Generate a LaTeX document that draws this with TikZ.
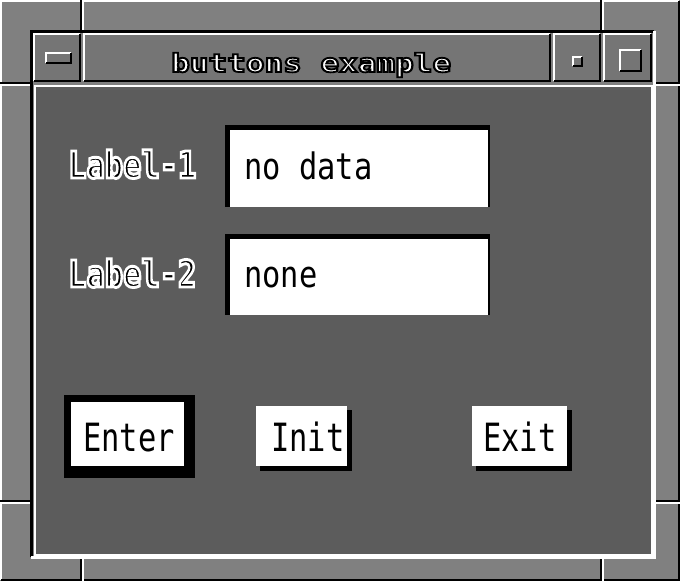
\documentclass[tikz,border=0pt]{standalone}
\usepackage{fontspec}
\usepackage{graphicx}
\newfontfamily\xfont{DejaVu Sans Mono}
\newfontfamily\xbold{DejaVu Sans Mono Bold}
\definecolor{frameg}{gray}{0.50}
\definecolor{titleg}{gray}{0.46}
\definecolor{paneg}{gray}{0.36}

\tikzset{
  hi/.style={draw=white,line width=2.5pt},
  lo/.style={draw=black,line width=2.5pt},
  txt/.style={font=\xfont\fontsize{30.4}{36}\selectfont,inner sep=0pt,anchor=base west},
  lbl/.style={font=\xbold\fontsize{30.4}{36}\selectfont,inner sep=0pt,anchor=base west},
  ttl/.style={font=\xbold\fontsize{31}{36}\selectfont,inner sep=0pt,anchor=base west},
}

% raised bevelled box: light top/left edge, dark bottom/right edge
\newcommand\raisedbox[5]{%
  \fill[#5] (#1,#2) rectangle (#3,#4);
  \draw[hi] (#1,#4) -- (#1,#2) -- (#3,#2);
  \draw[lo] (#1,#4) -- (#3,#4) -- (#3,#2);}

% glyphs filled in the current colour and stroked with an outline colour
% #1 outline colour (rgb triple), #2 outline width, #3 text
\newcommand\outlined[3]{%
  \special{pdf:literal direct #1 RG #2 w 2 Tr}#3\special{pdf:literal direct 0 Tr}}

\begin{document}
\begin{tikzpicture}[x=1pt,y=-1pt]
\useasboundingbox (0,0) rectangle (680,581);

% window frame
\fill[frameg] (0,0) rectangle (680,581);
\draw[white,line width=2pt] (1,580) -- (1,1) -- (679,1);
\draw[black,line width=2pt] (1,580) -- (679,580) -- (679,1);

% resize-handle grooves in the frame
\foreach \x in {81,601} {
  \draw[black,line width=2pt] (\x,0) -- (\x,30);
  \draw[white,line width=1.5pt] (\x+2,0) -- (\x+2,30);
  \draw[black,line width=2pt] (\x,557) -- (\x,581);
  \draw[white,line width=1.5pt] (\x+2,557) -- (\x+2,581);
}
\foreach \y in {83,501} {
  \draw[black,line width=2pt] (0,\y) -- (30,\y);
  \draw[white,line width=1.5pt] (0,\y+2) -- (30,\y+2);
  \draw[black,line width=2pt] (655,\y) -- (680,\y);
  \draw[white,line width=1.5pt] (655,\y+2) -- (680,\y+2);
}

% sunken inner edge of the frame
\draw[black,line width=3pt] (31,557) -- (31,31) -- (654,31);
\draw[white,line width=3pt] (31,557) -- (654,557) -- (654,31);

% title bar: menu button, title, minimise and maximise buttons
\raisedbox{34}{34}{80}{81}{titleg}
\raisedbox{84}{34}{550}{81}{titleg}
\raisedbox{554}{34}{600}{81}{titleg}
\raisedbox{604}{34}{651}{81}{titleg}

% button glyphs
\raisedbox{46}{53}{71}{63}{titleg}
\raisedbox{573}{57}{582}{66}{titleg}
\raisedbox{620}{50}{641}{71}{titleg}

\node[ttl,text=white] (title) at (171,72)
  {\scalebox{1}[0.82]{\outlined{0 0 0}{2.2}{buttons example}}};

% client area
\fill[paneg] (35,86) rectangle (652,555);
\draw[white,line width=2.5pt] (35,86) rectangle (652,555);

% labels
\node[lbl,text=black] (lab1) at (68,178)
  {\scalebox{1}[1.22]{\outlined{1 1 1}{2.4}{Label-1}}};
\node[lbl,text=black] (lab2) at (68,287)
  {\scalebox{1}[1.22]{\outlined{1 1 1}{2.4}{Label-2}}};

% text fields
\fill[black] (225,125) rectangle (490,207);
\fill[white] (230,130) rectangle (488,207);
\fill[black] (225,234) rectangle (490,315);
\fill[white] (230,239) rectangle (488,315);
\node[txt] (field1) at (244,179) {\scalebox{1}[1.2]{no data}};
\node[txt] (field2) at (244,287) {\scalebox{1}[1.2]{none}};

% push buttons (Enter is the default button)
\fill[black] (64,395) rectangle (195,478);
\fill[white] (71,402) rectangle (184,466);
\node[txt] (enter) at (83,451) {\scalebox{1}[1.28]{Enter}};

\fill[black] (260,410) rectangle (352,471);
\fill[white] (256,406) rectangle (347,466);
\node[txt] (init) at (271,451) {\scalebox{1}[1.28]{Init}};

\fill[black] (476,410) rectangle (572,471);
\fill[white] (472,406) rectangle (567,466);
\node[txt] (exit) at (483,451) {\scalebox{1}[1.28]{Exit}};
\end{tikzpicture}
\end{document}
